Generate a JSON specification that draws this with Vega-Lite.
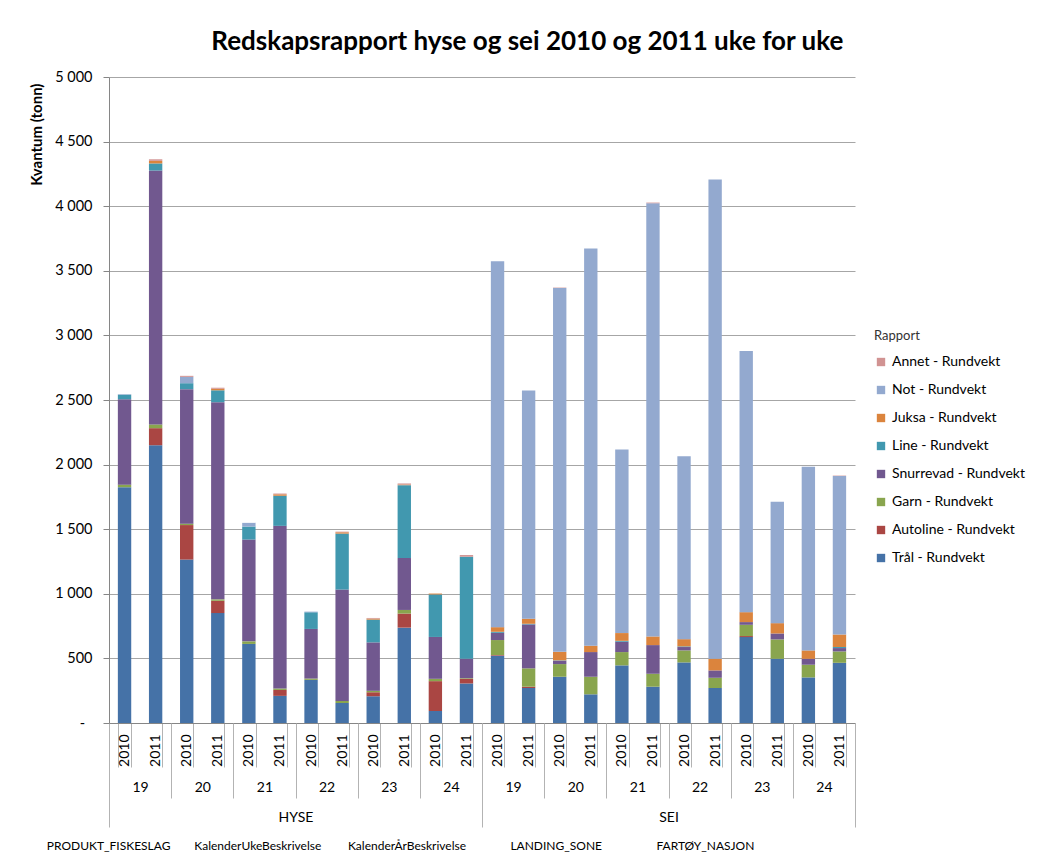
{
  "$schema": "https://vega.github.io/schema/vega-lite/v6.json",
  "width": 746,
  "height": 646,
  "padding": {"left": 29, "top": 29, "right": 5, "bottom": 2},
  "background": "white",
  "config": {"font": "Lato", "view": {"stroke": null}},
  "title": {"text": "Redskapsrapport hyse og sei 2010 og 2011 uke for uke", "fontSize": 26, "fontWeight": "bold", "color": "#000000", "anchor": "middle", "frame": "bounds", "offset": 14},
  "data": {"values": [
    {"produkt": "HYSE", "uke": "HYSE 19", "periode": "HYSE 19 2010", "rapport": "Trål - Rundvekt", "tonn": 1825},
    {"produkt": "HYSE", "uke": "HYSE 19", "periode": "HYSE 19 2010", "rapport": "Garn - Rundvekt", "tonn": 20},
    {"produkt": "HYSE", "uke": "HYSE 19", "periode": "HYSE 19 2010", "rapport": "Snurrevad - Rundvekt", "tonn": 661},
    {"produkt": "HYSE", "uke": "HYSE 19", "periode": "HYSE 19 2010", "rapport": "Line - Rundvekt", "tonn": 35},
    {"produkt": "HYSE", "uke": "HYSE 19", "periode": "HYSE 19 2010", "rapport": "Not - Rundvekt", "tonn": 4},
    {"produkt": "HYSE", "uke": "HYSE 19", "periode": "HYSE 19 2011", "rapport": "Trål - Rundvekt", "tonn": 2150},
    {"produkt": "HYSE", "uke": "HYSE 19", "periode": "HYSE 19 2011", "rapport": "Autoline - Rundvekt", "tonn": 132},
    {"produkt": "HYSE", "uke": "HYSE 19", "periode": "HYSE 19 2011", "rapport": "Garn - Rundvekt", "tonn": 29},
    {"produkt": "HYSE", "uke": "HYSE 19", "periode": "HYSE 19 2011", "rapport": "Snurrevad - Rundvekt", "tonn": 1965},
    {"produkt": "HYSE", "uke": "HYSE 19", "periode": "HYSE 19 2011", "rapport": "Line - Rundvekt", "tonn": 55},
    {"produkt": "HYSE", "uke": "HYSE 19", "periode": "HYSE 19 2011", "rapport": "Juksa - Rundvekt", "tonn": 20},
    {"produkt": "HYSE", "uke": "HYSE 19", "periode": "HYSE 19 2011", "rapport": "Annet - Rundvekt", "tonn": 12},
    {"produkt": "HYSE", "uke": "HYSE 20", "periode": "HYSE 20 2010", "rapport": "Trål - Rundvekt", "tonn": 1265},
    {"produkt": "HYSE", "uke": "HYSE 20", "periode": "HYSE 20 2010", "rapport": "Autoline - Rundvekt", "tonn": 267},
    {"produkt": "HYSE", "uke": "HYSE 20", "periode": "HYSE 20 2010", "rapport": "Garn - Rundvekt", "tonn": 11},
    {"produkt": "HYSE", "uke": "HYSE 20", "periode": "HYSE 20 2010", "rapport": "Snurrevad - Rundvekt", "tonn": 1041},
    {"produkt": "HYSE", "uke": "HYSE 20", "periode": "HYSE 20 2010", "rapport": "Line - Rundvekt", "tonn": 46},
    {"produkt": "HYSE", "uke": "HYSE 20", "periode": "HYSE 20 2010", "rapport": "Not - Rundvekt", "tonn": 49},
    {"produkt": "HYSE", "uke": "HYSE 20", "periode": "HYSE 20 2010", "rapport": "Annet - Rundvekt", "tonn": 8},
    {"produkt": "HYSE", "uke": "HYSE 20", "periode": "HYSE 20 2011", "rapport": "Trål - Rundvekt", "tonn": 851},
    {"produkt": "HYSE", "uke": "HYSE 20", "periode": "HYSE 20 2011", "rapport": "Autoline - Rundvekt", "tonn": 95},
    {"produkt": "HYSE", "uke": "HYSE 20", "periode": "HYSE 20 2011", "rapport": "Garn - Rundvekt", "tonn": 11},
    {"produkt": "HYSE", "uke": "HYSE 20", "periode": "HYSE 20 2011", "rapport": "Snurrevad - Rundvekt", "tonn": 1526},
    {"produkt": "HYSE", "uke": "HYSE 20", "periode": "HYSE 20 2011", "rapport": "Line - Rundvekt", "tonn": 92},
    {"produkt": "HYSE", "uke": "HYSE 20", "periode": "HYSE 20 2011", "rapport": "Juksa - Rundvekt", "tonn": 12},
    {"produkt": "HYSE", "uke": "HYSE 20", "periode": "HYSE 20 2011", "rapport": "Annet - Rundvekt", "tonn": 8},
    {"produkt": "HYSE", "uke": "HYSE 21", "periode": "HYSE 21 2010", "rapport": "Trål - Rundvekt", "tonn": 612},
    {"produkt": "HYSE", "uke": "HYSE 21", "periode": "HYSE 21 2010", "rapport": "Garn - Rundvekt", "tonn": 20},
    {"produkt": "HYSE", "uke": "HYSE 21", "periode": "HYSE 21 2010", "rapport": "Snurrevad - Rundvekt", "tonn": 788},
    {"produkt": "HYSE", "uke": "HYSE 21", "periode": "HYSE 21 2010", "rapport": "Line - Rundvekt", "tonn": 100},
    {"produkt": "HYSE", "uke": "HYSE 21", "periode": "HYSE 21 2010", "rapport": "Not - Rundvekt", "tonn": 29},
    {"produkt": "HYSE", "uke": "HYSE 21", "periode": "HYSE 21 2011", "rapport": "Trål - Rundvekt", "tonn": 210},
    {"produkt": "HYSE", "uke": "HYSE 21", "periode": "HYSE 21 2011", "rapport": "Autoline - Rundvekt", "tonn": 46},
    {"produkt": "HYSE", "uke": "HYSE 21", "periode": "HYSE 21 2011", "rapport": "Garn - Rundvekt", "tonn": 11},
    {"produkt": "HYSE", "uke": "HYSE 21", "periode": "HYSE 21 2011", "rapport": "Snurrevad - Rundvekt", "tonn": 1259},
    {"produkt": "HYSE", "uke": "HYSE 21", "periode": "HYSE 21 2011", "rapport": "Line - Rundvekt", "tonn": 233},
    {"produkt": "HYSE", "uke": "HYSE 21", "periode": "HYSE 21 2011", "rapport": "Juksa - Rundvekt", "tonn": 11},
    {"produkt": "HYSE", "uke": "HYSE 21", "periode": "HYSE 21 2011", "rapport": "Annet - Rundvekt", "tonn": 6},
    {"produkt": "HYSE", "uke": "HYSE 22", "periode": "HYSE 22 2010", "rapport": "Trål - Rundvekt", "tonn": 334},
    {"produkt": "HYSE", "uke": "HYSE 22", "periode": "HYSE 22 2010", "rapport": "Garn - Rundvekt", "tonn": 10},
    {"produkt": "HYSE", "uke": "HYSE 22", "periode": "HYSE 22 2010", "rapport": "Snurrevad - Rundvekt", "tonn": 384},
    {"produkt": "HYSE", "uke": "HYSE 22", "periode": "HYSE 22 2010", "rapport": "Line - Rundvekt", "tonn": 129},
    {"produkt": "HYSE", "uke": "HYSE 22", "periode": "HYSE 22 2010", "rapport": "Not - Rundvekt", "tonn": 5},
    {"produkt": "HYSE", "uke": "HYSE 22", "periode": "HYSE 22 2011", "rapport": "Trål - Rundvekt", "tonn": 155},
    {"produkt": "HYSE", "uke": "HYSE 22", "periode": "HYSE 22 2011", "rapport": "Garn - Rundvekt", "tonn": 16},
    {"produkt": "HYSE", "uke": "HYSE 22", "periode": "HYSE 22 2011", "rapport": "Snurrevad - Rundvekt", "tonn": 862},
    {"produkt": "HYSE", "uke": "HYSE 22", "periode": "HYSE 22 2011", "rapport": "Line - Rundvekt", "tonn": 433},
    {"produkt": "HYSE", "uke": "HYSE 22", "periode": "HYSE 22 2011", "rapport": "Juksa - Rundvekt", "tonn": 10},
    {"produkt": "HYSE", "uke": "HYSE 22", "periode": "HYSE 22 2011", "rapport": "Annet - Rundvekt", "tonn": 5},
    {"produkt": "HYSE", "uke": "HYSE 23", "periode": "HYSE 23 2010", "rapport": "Trål - Rundvekt", "tonn": 207},
    {"produkt": "HYSE", "uke": "HYSE 23", "periode": "HYSE 23 2010", "rapport": "Autoline - Rundvekt", "tonn": 31},
    {"produkt": "HYSE", "uke": "HYSE 23", "periode": "HYSE 23 2010", "rapport": "Garn - Rundvekt", "tonn": 11},
    {"produkt": "HYSE", "uke": "HYSE 23", "periode": "HYSE 23 2010", "rapport": "Snurrevad - Rundvekt", "tonn": 375},
    {"produkt": "HYSE", "uke": "HYSE 23", "periode": "HYSE 23 2010", "rapport": "Line - Rundvekt", "tonn": 176},
    {"produkt": "HYSE", "uke": "HYSE 23", "periode": "HYSE 23 2010", "rapport": "Juksa - Rundvekt", "tonn": 8},
    {"produkt": "HYSE", "uke": "HYSE 23", "periode": "HYSE 23 2010", "rapport": "Annet - Rundvekt", "tonn": 5},
    {"produkt": "HYSE", "uke": "HYSE 23", "periode": "HYSE 23 2011", "rapport": "Trål - Rundvekt", "tonn": 738},
    {"produkt": "HYSE", "uke": "HYSE 23", "periode": "HYSE 23 2011", "rapport": "Autoline - Rundvekt", "tonn": 109},
    {"produkt": "HYSE", "uke": "HYSE 23", "periode": "HYSE 23 2011", "rapport": "Garn - Rundvekt", "tonn": 28},
    {"produkt": "HYSE", "uke": "HYSE 23", "periode": "HYSE 23 2011", "rapport": "Snurrevad - Rundvekt", "tonn": 402},
    {"produkt": "HYSE", "uke": "HYSE 23", "periode": "HYSE 23 2011", "rapport": "Line - Rundvekt", "tonn": 564},
    {"produkt": "HYSE", "uke": "HYSE 23", "periode": "HYSE 23 2011", "rapport": "Juksa - Rundvekt", "tonn": 5},
    {"produkt": "HYSE", "uke": "HYSE 23", "periode": "HYSE 23 2011", "rapport": "Annet - Rundvekt", "tonn": 8},
    {"produkt": "HYSE", "uke": "HYSE 24", "periode": "HYSE 24 2010", "rapport": "Trål - Rundvekt", "tonn": 93},
    {"produkt": "HYSE", "uke": "HYSE 24", "periode": "HYSE 24 2010", "rapport": "Autoline - Rundvekt", "tonn": 231},
    {"produkt": "HYSE", "uke": "HYSE 24", "periode": "HYSE 24 2010", "rapport": "Garn - Rundvekt", "tonn": 18},
    {"produkt": "HYSE", "uke": "HYSE 24", "periode": "HYSE 24 2010", "rapport": "Snurrevad - Rundvekt", "tonn": 324},
    {"produkt": "HYSE", "uke": "HYSE 24", "periode": "HYSE 24 2010", "rapport": "Line - Rundvekt", "tonn": 329},
    {"produkt": "HYSE", "uke": "HYSE 24", "periode": "HYSE 24 2010", "rapport": "Juksa - Rundvekt", "tonn": 7},
    {"produkt": "HYSE", "uke": "HYSE 24", "periode": "HYSE 24 2011", "rapport": "Trål - Rundvekt", "tonn": 306},
    {"produkt": "HYSE", "uke": "HYSE 24", "periode": "HYSE 24 2011", "rapport": "Autoline - Rundvekt", "tonn": 36},
    {"produkt": "HYSE", "uke": "HYSE 24", "periode": "HYSE 24 2011", "rapport": "Garn - Rundvekt", "tonn": 5},
    {"produkt": "HYSE", "uke": "HYSE 24", "periode": "HYSE 24 2011", "rapport": "Snurrevad - Rundvekt", "tonn": 150},
    {"produkt": "HYSE", "uke": "HYSE 24", "periode": "HYSE 24 2011", "rapport": "Line - Rundvekt", "tonn": 790},
    {"produkt": "HYSE", "uke": "HYSE 24", "periode": "HYSE 24 2011", "rapport": "Annet - Rundvekt", "tonn": 13},
    {"produkt": "SEI", "uke": "SEI 19", "periode": "SEI 19 2010", "rapport": "Trål - Rundvekt", "tonn": 521},
    {"produkt": "SEI", "uke": "SEI 19", "periode": "SEI 19 2010", "rapport": "Autoline - Rundvekt", "tonn": 5},
    {"produkt": "SEI", "uke": "SEI 19", "periode": "SEI 19 2010", "rapport": "Garn - Rundvekt", "tonn": 116},
    {"produkt": "SEI", "uke": "SEI 19", "periode": "SEI 19 2010", "rapport": "Snurrevad - Rundvekt", "tonn": 56},
    {"produkt": "SEI", "uke": "SEI 19", "periode": "SEI 19 2010", "rapport": "Line - Rundvekt", "tonn": 8},
    {"produkt": "SEI", "uke": "SEI 19", "periode": "SEI 19 2010", "rapport": "Juksa - Rundvekt", "tonn": 36},
    {"produkt": "SEI", "uke": "SEI 19", "periode": "SEI 19 2010", "rapport": "Not - Rundvekt", "tonn": 2832},
    {"produkt": "SEI", "uke": "SEI 19", "periode": "SEI 19 2011", "rapport": "Trål - Rundvekt", "tonn": 271},
    {"produkt": "SEI", "uke": "SEI 19", "periode": "SEI 19 2011", "rapport": "Autoline - Rundvekt", "tonn": 10},
    {"produkt": "SEI", "uke": "SEI 19", "periode": "SEI 19 2011", "rapport": "Garn - Rundvekt", "tonn": 142},
    {"produkt": "SEI", "uke": "SEI 19", "periode": "SEI 19 2011", "rapport": "Snurrevad - Rundvekt", "tonn": 340},
    {"produkt": "SEI", "uke": "SEI 19", "periode": "SEI 19 2011", "rapport": "Line - Rundvekt", "tonn": 5},
    {"produkt": "SEI", "uke": "SEI 19", "periode": "SEI 19 2011", "rapport": "Juksa - Rundvekt", "tonn": 39},
    {"produkt": "SEI", "uke": "SEI 19", "periode": "SEI 19 2011", "rapport": "Not - Rundvekt", "tonn": 1766},
    {"produkt": "SEI", "uke": "SEI 20", "periode": "SEI 20 2010", "rapport": "Trål - Rundvekt", "tonn": 358},
    {"produkt": "SEI", "uke": "SEI 20", "periode": "SEI 20 2010", "rapport": "Garn - Rundvekt", "tonn": 98},
    {"produkt": "SEI", "uke": "SEI 20", "periode": "SEI 20 2010", "rapport": "Snurrevad - Rundvekt", "tonn": 26},
    {"produkt": "SEI", "uke": "SEI 20", "periode": "SEI 20 2010", "rapport": "Line - Rundvekt", "tonn": 3},
    {"produkt": "SEI", "uke": "SEI 20", "periode": "SEI 20 2010", "rapport": "Juksa - Rundvekt", "tonn": 66},
    {"produkt": "SEI", "uke": "SEI 20", "periode": "SEI 20 2010", "rapport": "Not - Rundvekt", "tonn": 2816},
    {"produkt": "SEI", "uke": "SEI 20", "periode": "SEI 20 2010", "rapport": "Annet - Rundvekt", "tonn": 3},
    {"produkt": "SEI", "uke": "SEI 20", "periode": "SEI 20 2011", "rapport": "Trål - Rundvekt", "tonn": 222},
    {"produkt": "SEI", "uke": "SEI 20", "periode": "SEI 20 2011", "rapport": "Garn - Rundvekt", "tonn": 136},
    {"produkt": "SEI", "uke": "SEI 20", "periode": "SEI 20 2011", "rapport": "Snurrevad - Rundvekt", "tonn": 191},
    {"produkt": "SEI", "uke": "SEI 20", "periode": "SEI 20 2011", "rapport": "Juksa - Rundvekt", "tonn": 49},
    {"produkt": "SEI", "uke": "SEI 20", "periode": "SEI 20 2011", "rapport": "Not - Rundvekt", "tonn": 3074},
    {"produkt": "SEI", "uke": "SEI 21", "periode": "SEI 21 2010", "rapport": "Trål - Rundvekt", "tonn": 446},
    {"produkt": "SEI", "uke": "SEI 21", "periode": "SEI 21 2010", "rapport": "Garn - Rundvekt", "tonn": 103},
    {"produkt": "SEI", "uke": "SEI 21", "periode": "SEI 21 2010", "rapport": "Snurrevad - Rundvekt", "tonn": 80},
    {"produkt": "SEI", "uke": "SEI 21", "periode": "SEI 21 2010", "rapport": "Line - Rundvekt", "tonn": 7},
    {"produkt": "SEI", "uke": "SEI 21", "periode": "SEI 21 2010", "rapport": "Juksa - Rundvekt", "tonn": 60},
    {"produkt": "SEI", "uke": "SEI 21", "periode": "SEI 21 2010", "rapport": "Not - Rundvekt", "tonn": 1420},
    {"produkt": "SEI", "uke": "SEI 21", "periode": "SEI 21 2011", "rapport": "Trål - Rundvekt", "tonn": 281},
    {"produkt": "SEI", "uke": "SEI 21", "periode": "SEI 21 2011", "rapport": "Garn - Rundvekt", "tonn": 100},
    {"produkt": "SEI", "uke": "SEI 21", "periode": "SEI 21 2011", "rapport": "Snurrevad - Rundvekt", "tonn": 222},
    {"produkt": "SEI", "uke": "SEI 21", "periode": "SEI 21 2011", "rapport": "Juksa - Rundvekt", "tonn": 67},
    {"produkt": "SEI", "uke": "SEI 21", "periode": "SEI 21 2011", "rapport": "Not - Rundvekt", "tonn": 3353},
    {"produkt": "SEI", "uke": "SEI 21", "periode": "SEI 21 2011", "rapport": "Annet - Rundvekt", "tonn": 5},
    {"produkt": "SEI", "uke": "SEI 22", "periode": "SEI 22 2010", "rapport": "Trål - Rundvekt", "tonn": 469},
    {"produkt": "SEI", "uke": "SEI 22", "periode": "SEI 22 2010", "rapport": "Garn - Rundvekt", "tonn": 93},
    {"produkt": "SEI", "uke": "SEI 22", "periode": "SEI 22 2010", "rapport": "Snurrevad - Rundvekt", "tonn": 26},
    {"produkt": "SEI", "uke": "SEI 22", "periode": "SEI 22 2010", "rapport": "Line - Rundvekt", "tonn": 5},
    {"produkt": "SEI", "uke": "SEI 22", "periode": "SEI 22 2010", "rapport": "Juksa - Rundvekt", "tonn": 56},
    {"produkt": "SEI", "uke": "SEI 22", "periode": "SEI 22 2010", "rapport": "Not - Rundvekt", "tonn": 1415},
    {"produkt": "SEI", "uke": "SEI 22", "periode": "SEI 22 2011", "rapport": "Trål - Rundvekt", "tonn": 271},
    {"produkt": "SEI", "uke": "SEI 22", "periode": "SEI 22 2011", "rapport": "Garn - Rundvekt", "tonn": 79},
    {"produkt": "SEI", "uke": "SEI 22", "periode": "SEI 22 2011", "rapport": "Snurrevad - Rundvekt", "tonn": 57},
    {"produkt": "SEI", "uke": "SEI 22", "periode": "SEI 22 2011", "rapport": "Juksa - Rundvekt", "tonn": 90},
    {"produkt": "SEI", "uke": "SEI 22", "periode": "SEI 22 2011", "rapport": "Not - Rundvekt", "tonn": 3709},
    {"produkt": "SEI", "uke": "SEI 23", "periode": "SEI 23 2010", "rapport": "Trål - Rundvekt", "tonn": 665},
    {"produkt": "SEI", "uke": "SEI 23", "periode": "SEI 23 2010", "rapport": "Autoline - Rundvekt", "tonn": 8},
    {"produkt": "SEI", "uke": "SEI 23", "periode": "SEI 23 2010", "rapport": "Garn - Rundvekt", "tonn": 87},
    {"produkt": "SEI", "uke": "SEI 23", "periode": "SEI 23 2010", "rapport": "Snurrevad - Rundvekt", "tonn": 21},
    {"produkt": "SEI", "uke": "SEI 23", "periode": "SEI 23 2010", "rapport": "Juksa - Rundvekt", "tonn": 77},
    {"produkt": "SEI", "uke": "SEI 23", "periode": "SEI 23 2010", "rapport": "Not - Rundvekt", "tonn": 2022},
    {"produkt": "SEI", "uke": "SEI 23", "periode": "SEI 23 2011", "rapport": "Trål - Rundvekt", "tonn": 497},
    {"produkt": "SEI", "uke": "SEI 23", "periode": "SEI 23 2011", "rapport": "Garn - Rundvekt", "tonn": 150},
    {"produkt": "SEI", "uke": "SEI 23", "periode": "SEI 23 2011", "rapport": "Snurrevad - Rundvekt", "tonn": 46},
    {"produkt": "SEI", "uke": "SEI 23", "periode": "SEI 23 2011", "rapport": "Juksa - Rundvekt", "tonn": 80},
    {"produkt": "SEI", "uke": "SEI 23", "periode": "SEI 23 2011", "rapport": "Not - Rundvekt", "tonn": 940},
    {"produkt": "SEI", "uke": "SEI 24", "periode": "SEI 24 2010", "rapport": "Trål - Rundvekt", "tonn": 353},
    {"produkt": "SEI", "uke": "SEI 24", "periode": "SEI 24 2010", "rapport": "Garn - Rundvekt", "tonn": 98},
    {"produkt": "SEI", "uke": "SEI 24", "periode": "SEI 24 2010", "rapport": "Snurrevad - Rundvekt", "tonn": 46},
    {"produkt": "SEI", "uke": "SEI 24", "periode": "SEI 24 2010", "rapport": "Juksa - Rundvekt", "tonn": 65},
    {"produkt": "SEI", "uke": "SEI 24", "periode": "SEI 24 2010", "rapport": "Not - Rundvekt", "tonn": 1422},
    {"produkt": "SEI", "uke": "SEI 24", "periode": "SEI 24 2011", "rapport": "Trål - Rundvekt", "tonn": 466},
    {"produkt": "SEI", "uke": "SEI 24", "periode": "SEI 24 2011", "rapport": "Garn - Rundvekt", "tonn": 88},
    {"produkt": "SEI", "uke": "SEI 24", "periode": "SEI 24 2011", "rapport": "Snurrevad - Rundvekt", "tonn": 26},
    {"produkt": "SEI", "uke": "SEI 24", "periode": "SEI 24 2011", "rapport": "Line - Rundvekt", "tonn": 8},
    {"produkt": "SEI", "uke": "SEI 24", "periode": "SEI 24 2011", "rapport": "Juksa - Rundvekt", "tonn": 97},
    {"produkt": "SEI", "uke": "SEI 24", "periode": "SEI 24 2011", "rapport": "Not - Rundvekt", "tonn": 1227},
    {"produkt": "SEI", "uke": "SEI 24", "periode": "SEI 24 2011", "rapport": "Annet - Rundvekt", "tonn": 3}
  ]},
  "layer": [
    {
      "transform": [
        {"calculate": "indexof(['Trål - Rundvekt', 'Autoline - Rundvekt', 'Garn - Rundvekt', 'Snurrevad - Rundvekt', 'Line - Rundvekt', 'Juksa - Rundvekt', 'Not - Rundvekt', 'Annet - Rundvekt'], datum.rapport)", "as": "rekkefolge"}
      ],
      "mark": {"type": "bar"},
      "encoding": {
        "x": {"field": "periode", "type": "nominal", "sort": "ascending",
          "scale": {"paddingInner": 0.57, "paddingOuter": 0.285},
          "axis": {"orient": "bottom", "title": null, "labelExpr": "split(datum.label, ' ')[2]", "labelAngle": -90, "labelFontSize": 14, "labelColor": "#000000", "tickBand": "extent", "tickSize": 44, "tickColor": "#b3b3b3", "labelPadding": -33, "domainColor": "#868686", "grid": false}},
        "y": {"field": "tonn", "type": "quantitative", "stack": "zero",
          "scale": {"domain": [0, 5000]},
          "axis": {"values": [0, 500, 1000, 1500, 2000, 2500, 3000, 3500, 4000, 4500, 5000],
            "labelExpr": "datum.value === 0 ? '-\u2002\u2060' : replace(format(datum.value, ','), ',', ' ')",
            "labelFontSize": 14.5, "labelColor": "#000000", "tickSize": 6, "tickColor": "#868686", "labelPadding": 11,
            "domainColor": "#868686", "gridColor": "#a6a6a6", "title": "Kvantum (tonn)", "titleFontSize": 15,
            "titleFontWeight": "bold", "titleColor": "#000000", "titleAnchor": "end", "titleY": 6, "titlePadding": 10}},
        "order": {"field": "rekkefolge", "type": "quantitative", "sort": "ascending"},
        "color": {"field": "rapport", "type": "nominal",
          "scale": {"domain": ["Trål - Rundvekt", "Autoline - Rundvekt", "Garn - Rundvekt", "Snurrevad - Rundvekt", "Line - Rundvekt", "Juksa - Rundvekt", "Not - Rundvekt", "Annet - Rundvekt"],
            "range": ["#4572A7", "#AA4643", "#89A54E", "#71588F", "#4198AF", "#DB843D", "#93A9CF", "#D19392"]},
          "legend": {"orient": "none", "legendX": 765, "legendY": 253, "title": "Rapport", "titleFontSize": 13, "titleFontWeight": "normal", "titleColor": "#333333", "titlePadding": 12, "labelFontSize": 14, "labelColor": "#000000", "symbolType": "square", "symbolSize": 70, "symbolStrokeWidth": 0, "rowPadding": 14, "labelLimit": 250,
            "values": ["Annet - Rundvekt", "Not - Rundvekt", "Juksa - Rundvekt", "Line - Rundvekt", "Snurrevad - Rundvekt", "Garn - Rundvekt", "Autoline - Rundvekt", "Trål - Rundvekt"]}}
      }
    },
    {
      "mark": {"type": "rule", "strokeOpacity": 0},
      "encoding": {
        "x": {"field": "uke", "type": "nominal", "sort": "ascending",
          "scale": {"paddingInner": 0, "paddingOuter": 0},
          "axis": {"orient": "bottom", "title": null, "labelExpr": "split(datum.label, ' ')[1]", "labelAngle": 0, "labelFontSize": 14, "labelColor": "#000000", "tickBand": "extent", "tickSize": 75, "tickColor": "#b3b3b3", "labelPadding": -18, "domain": false, "grid": false}}
      }
    },
    {
      "mark": {"type": "rule", "strokeOpacity": 0},
      "encoding": {
        "x": {"field": "produkt", "type": "nominal", "sort": "ascending",
          "scale": {"paddingInner": 0, "paddingOuter": 0},
          "axis": {"orient": "bottom", "title": null, "labelAngle": 0, "labelFontSize": 14, "labelColor": "#000000", "tickBand": "extent", "tickSize": 104, "tickColor": "#b3b3b3", "labelPadding": -17, "domain": false, "grid": false}}
      }
    },
    {
      "data": {"values": [{"knapp": "PRODUKT_FISKESLAG"}, {"knapp": "KalenderUkeBeskrivelse"}, {"knapp": "KalenderÅrBeskrivelse"}, {"knapp": "LANDING_SONE"}, {"knapp": "FARTØY_NASJON"}]},
      "mark": {"type": "rule", "strokeOpacity": 0},
      "encoding": {
        "x": {"field": "knapp", "type": "nominal", "sort": null,
          "scale": {"paddingInner": 0, "paddingOuter": 0},
          "axis": {"orient": "bottom", "title": null, "labelAngle": 0, "labelFontSize": 12, "labelColor": "#000000", "ticks": false, "labelPadding": 117, "labelOffset": -75, "domain": false, "grid": false}}
      }
    }
  ],
  "resolve": {"scale": {"x": "independent"}, "axis": {"x": "independent"}}
}
